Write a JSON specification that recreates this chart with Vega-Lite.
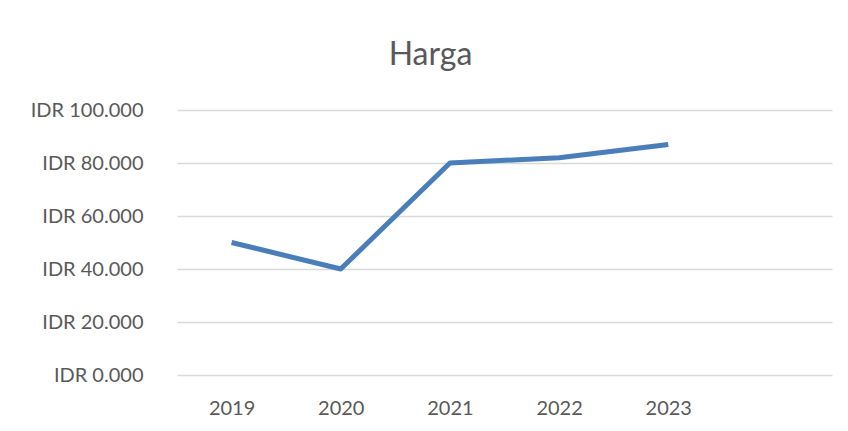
{
  "$schema": "https://vega.github.io/schema/vega-lite/v6.json",
  "autosize": "none",
  "width": 655,
  "height": 265,
  "padding": {"left": 177, "top": 110, "right": 16, "bottom": 56},
  "background": "white",
  "title": {
    "text": "Harga",
    "anchor": "middle",
    "frame": "group",
    "dx": -74,
    "offset": 28,
    "fontSize": 32,
    "font": "Lato",
    "fontWeight": "normal",
    "color": "#595959"
  },
  "data": {
    "values": [
      {"year": "2019", "price": 50000},
      {"year": "2020", "price": 40000},
      {"year": "2021", "price": 80000},
      {"year": "2022", "price": 82000},
      {"year": "2023", "price": 87000}
    ]
  },
  "mark": {"type": "line", "color": "#4A7EBB", "strokeWidth": 5, "strokeCap": "butt", "strokeJoin": "round"},
  "encoding": {
    "x": {
      "field": "year",
      "type": "ordinal",
      "scale": {"domain": ["2019", "2020", "2021", "2022", "2023", "x"], "type": "point", "padding": 0.5},
      "axis": {
        "title": null,
        "labelAngle": 0,
        "labelExpr": "datum.value == 'x' ? '' : datum.value",
        "ticks": false,
        "domain": false,
        "grid": false,
        "labelPadding": 23,
        "labelFontSize": 20,
        "labelFont": "Lato",
        "labelColor": "#595959"
      }
    },
    "y": {
      "field": "price",
      "type": "quantitative",
      "scale": {"domain": [0, 100000], "nice": false},
      "axis": {
        "title": null,
        "values": [0, 20000, 40000, 60000, 80000, 100000],
        "labelExpr": "'IDR ' + format(datum.value / 1000, '.3f')",
        "ticks": false,
        "domain": false,
        "gridColor": "#D9D9D9",
        "gridWidth": 1.5,
        "labelPadding": 34,
        "labelFontSize": 20,
        "labelFont": "Lato",
        "labelColor": "#595959"
      }
    }
  },
  "config": {"view": {"stroke": null}}
}
